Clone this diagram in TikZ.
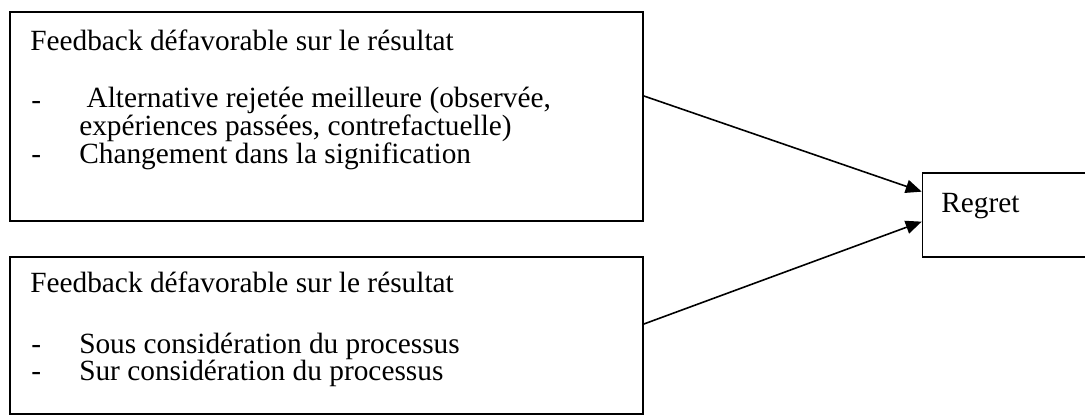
\documentclass[tikz,border=0pt]{standalone}
\usepackage{fontspec}
\setmainfont{Liberation Serif}
\usetikzlibrary{arrows.meta,positioning}

\begin{document}
\begin{tikzpicture}[x=0.75pt,y=-0.75pt,
    fbbox/.style={draw,line width=1.2pt,inner sep=0pt,minimum width=474.75pt},
    txt/.style={anchor=base west,inner sep=0pt,align=left,
                font=\fontsize{22}{19.5}\selectfont},
    link/.style={line width=1.2pt,-{Triangle[length=12pt,width=10pt]}}]
  \useasboundingbox (0,0) rectangle (1085,416);

  %% Feedback (top)
  \node[fbbox,minimum height=156.75pt] (fbone) at (326.5,116.5) {};
  \node[txt] (fbonetitle) at (30,51) {Feedback défavorable sur le résultat};
  \node[txt] (fbonedasha) at (31,109.5) {-};
  % base of a two-line node = baseline of its last line
  \node[txt] (fboneitema) at (79,135.5)
        {\ Alternative rejetée meilleure (observée,\\expériences passées, contrefactuelle)};
  \node[txt] (fbonedashc) at (31,163.5) {-};
  \node[txt] (fboneitemc) at (79,163.5) {Changement dans la signification};

  %% Feedback (bottom)
  \node[fbbox,minimum height=117.75pt] (fbtwo) at (326.5,335.5) {};
  \node[txt] (fbtwotitle) at (30,293) {Feedback défavorable sur le résultat};
  \node[txt] (fbtwodasha) at (31,354) {-};
  \node[txt] (fbtwoitema) at (79,354) {Sous considération du processus};
  \node[txt] (fbtwodashb) at (31,380.5) {-};
  \node[txt] (fbtwoitemb) at (79,380.5) {Sur considération du processus};

  %% Regret (right)
  \node[fbbox,minimum width=140.25pt,minimum height=62.6pt] (regret) at (1016,215) {};
  \node[txt] (regrettext) at (941,213) {Regret};

  \draw[link] ([yshift=15.4pt]fbone.east) -- ([yshift=17.5pt]regret.west);
  \draw[link] ([yshift=8.6pt]fbtwo.east) -- ([yshift=-5pt]regret.west);
\end{tikzpicture}
\end{document}
